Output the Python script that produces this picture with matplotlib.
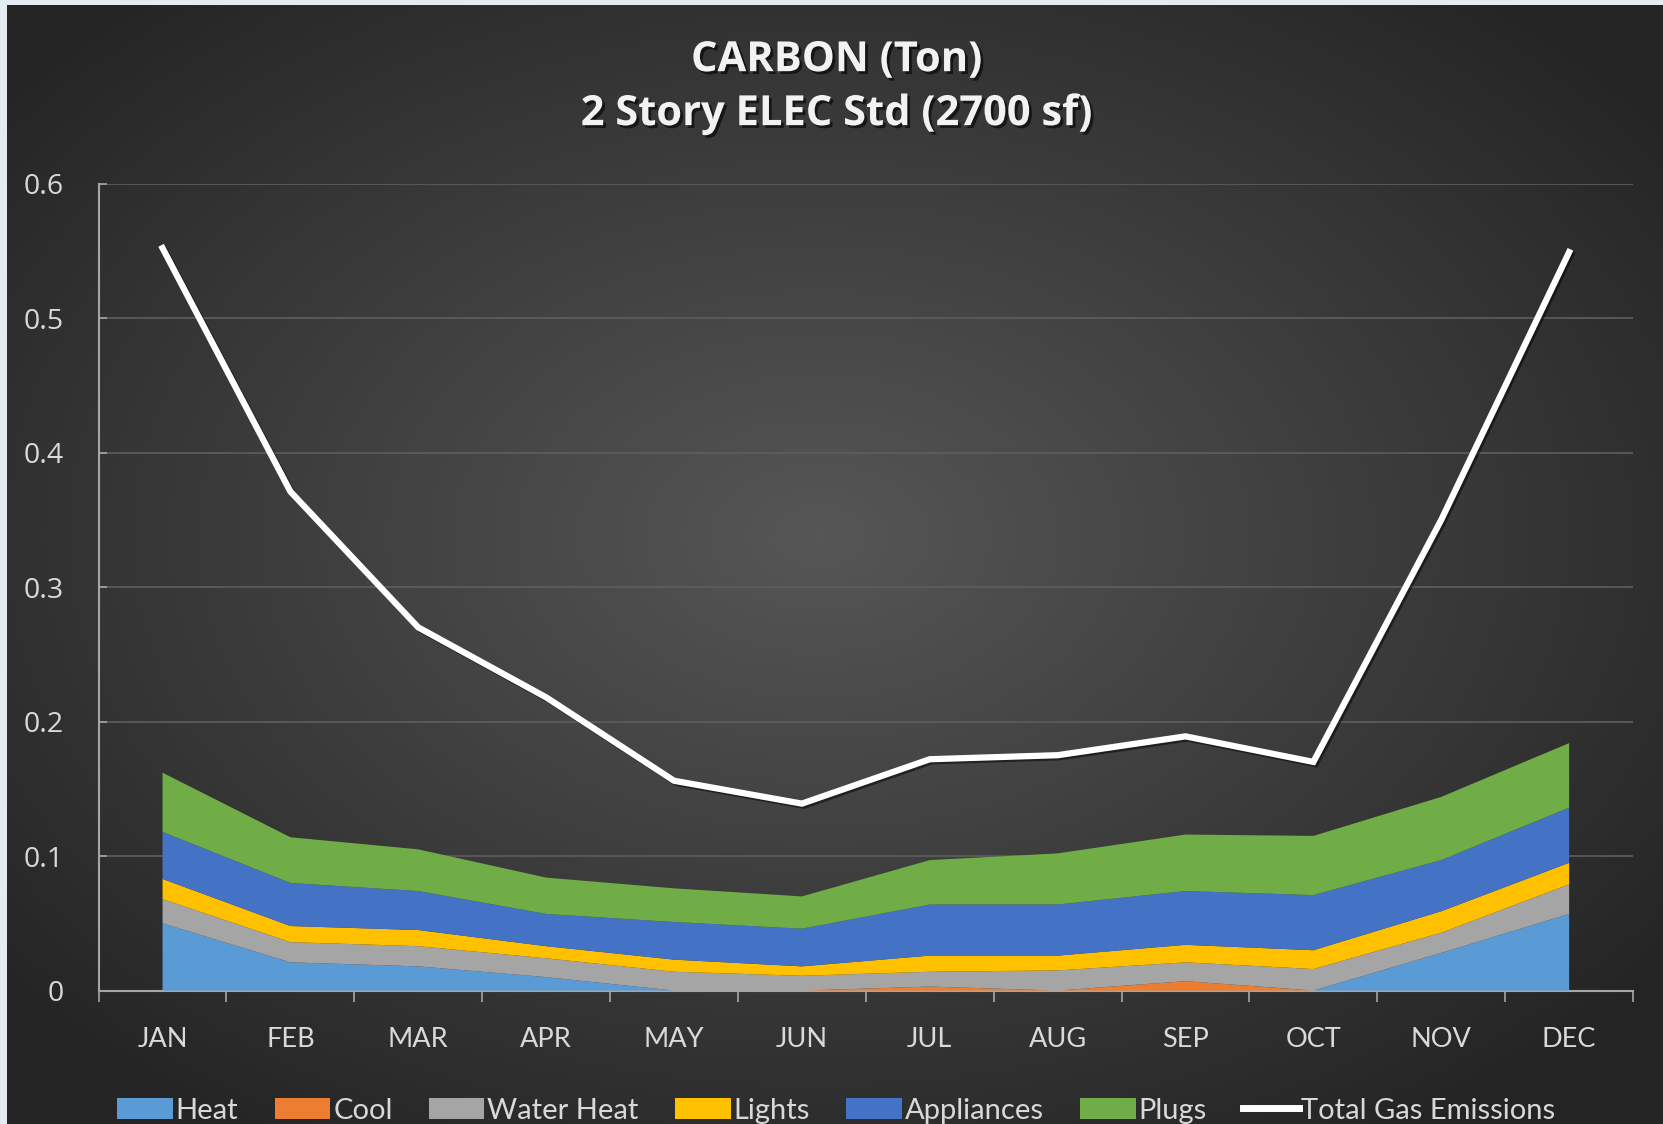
import numpy as np
import matplotlib
matplotlib.use("Agg")
import matplotlib.pyplot as plt
import matplotlib.patheffects as pe
from matplotlib.patches import Patch
from matplotlib.lines import Line2D
from matplotlib.colors import LinearSegmentedColormap

# data (tons of carbon per month)
months = ["JAN", "FEB", "MAR", "APR", "MAY", "JUN", "JUL", "AUG", "SEP", "OCT", "NOV", "DEC"]
heat = [0.050, 0.021, 0.018, 0.010, 0.000, 0.000, 0.000, 0.000, 0.000, 0.000, 0.028, 0.057]
cool = [0.000, 0.000, 0.000, 0.000, 0.000, 0.000, 0.003, 0.000, 0.007, 0.000, 0.000, 0.000]
water_heat = [0.018, 0.015, 0.015, 0.014, 0.014, 0.011, 0.011, 0.015, 0.014, 0.016, 0.015, 0.022]
lights = [0.015, 0.012, 0.012, 0.009, 0.009, 0.007, 0.012, 0.011, 0.013, 0.014, 0.016, 0.016]
appliances = [0.035, 0.032, 0.029, 0.024, 0.028, 0.028, 0.038, 0.038, 0.040, 0.041, 0.038, 0.041]
plugs = [0.044, 0.034, 0.031, 0.027, 0.025, 0.024, 0.033, 0.038, 0.042, 0.044, 0.047, 0.048]
total_gas = [0.552, 0.371, 0.270, 0.218, 0.156, 0.139, 0.172, 0.175, 0.189, 0.170, 0.350, 0.549]

names = ["Heat", "Cool", "Water Heat", "Lights", "Appliances", "Plugs"]
colors = ["#5b9bd5", "#ed7d31", "#a5a5a5", "#ffc000", "#4472c4", "#70ad47"]

plt.rcParams["font.family"] = ["Lato", "DejaVu Sans"]

fig = plt.figure(figsize=(16.63, 11.24), dpi=100)
fig.patch.set_facecolor("#e4ebf2")

# dark radial-gradient backdrop
bg = fig.add_axes([0.0045, 0, 0.9955, 0.9953])
bg.set_axis_off()
gx, gy = np.meshgrid(np.linspace(-1, 1, 400), np.linspace(-1, 1, 300))
r = np.sqrt((gx + 0.02) ** 2 + (gy + 0.05) ** 2)
grad = np.clip(1 - r / 1.3, 0, 1)
cmap = LinearSegmentedColormap.from_list("bgc", ["#242424", "#565656"])
bg.imshow(grad, cmap=cmap, aspect="auto", extent=[0, 1, 0, 1])
bg.set_zorder(-5)

ax = fig.add_axes([0.0593, 0.1187, 0.9227, 0.718])
ax.set_facecolor("none")

x = np.arange(len(months))
ax.stackplot(x, heat, cool, water_heat, lights, appliances, plugs,
             colors=colors, labels=names, zorder=3, linewidth=0)
ax.plot(x, total_gas, color="white", lw=4.5, zorder=4, solid_joinstyle="miter",
        path_effects=[pe.SimpleLineShadow(offset=(1.5, -1.5), shadow_color="black", alpha=0.5),
                      pe.Normal()])

ax.set_xlim(-0.5, 11.5)
ax.set_ylim(0, 0.6)
ax.set_yticks(np.arange(0, 0.61, 0.1))
ax.set_yticklabels(["0", "0.1", "0.2", "0.3", "0.4", "0.5", "0.6"], family=["Open Sans", "DejaVu Sans"])
ax.grid(axis="y", color="#5e5e5e", lw=1.2, zorder=0)

ax.set_xticks(np.arange(-0.5, 12, 1))
ax.set_xticklabels([])
ax.set_xticks(x, minor=True)
ax.set_xticklabels(months, minor=True)
ax.tick_params(axis="x", which="major", direction="out", length=8, width=1.2, color="#a6a6a6")
ax.tick_params(axis="x", which="minor", length=0, pad=26, labelsize=19.5, labelcolor="#d9d9d9")
ax.tick_params(axis="y", direction="in", length=6, width=1.2, color="#a6a6a6",
               pad=25, labelsize=20.5, labelcolor="#d9d9d9")

for s in ["top", "right"]:
    ax.spines[s].set_visible(False)
for s in ["left", "bottom"]:
    ax.spines[s].set_color("#a6a6a6")
    ax.spines[s].set_linewidth(1.5)

shadow = [pe.withSimplePatchShadow(offset=(2, -2), shadow_rgbFace="black", alpha=0.6)]
title_font = ["Open Sans", "DejaVu Sans"]
fig.text(0.503, 0.946, "CARBON (Ton)", ha="center", va="center", fontsize=30,
         fontweight="bold", color="#f2f2f2", family=title_font, path_effects=shadow)
fig.text(0.503, 0.898, "2 Story ELEC Std (2700 sf)", ha="center", va="center", fontsize=30,
         fontweight="bold", color="#f2f2f2", family=title_font, path_effects=shadow)

handles = [Patch(facecolor=c, label=n) for c, n in zip(colors, names)]
handles.append(Line2D([0], [0], color="white", lw=5, label="Total Gas Emissions"))
leg = fig.legend(handles=handles, loc="center", bbox_to_anchor=(0.503, 0.012), ncol=7,
                 frameon=False, fontsize=21, handlelength=1.9, handleheight=0.75,
                 handletextpad=0.1, columnspacing=1.25, labelcolor="#d9d9d9")

fig.savefig("out.png", dpi=100, facecolor=fig.get_facecolor())
